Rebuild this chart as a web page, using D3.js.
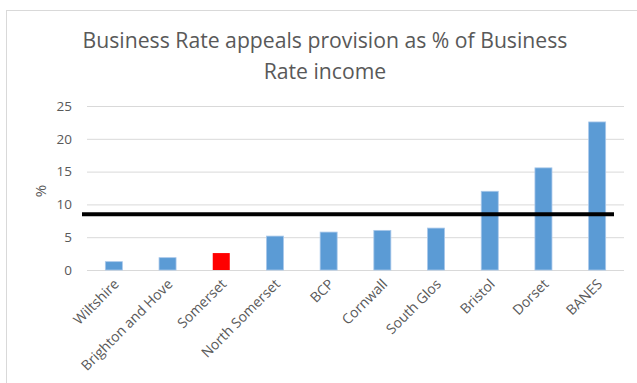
<!DOCTYPE html>
<html>
<head>
<meta charset="utf-8">
<script src="https://cdn.jsdelivr.net/npm/d3@7"></script>
<style>
  html, body { margin: 0; padding: 0; background: #fff; }
  svg { display: block; }
</style>
</head>
<body>
<svg id="chart" width="637" height="383"></svg>
<script>
// Business rate appeals provision by authority (% of business rate income)
const categories = ["Wiltshire", "Brighton and Hove", "Somerset", "North Somerset", "BCP",
                    "Cornwall", "South Glos", "Bristol", "Dorset", "BANES"];
const values = [1.27, 1.88, 2.58, 5.17, 5.78, 6.04, 6.39, 12.0, 15.57, 22.57];
const highlighted = ["Somerset"];
const averageLine = 8.5;
const yTicks = [0, 5, 10, 15, 20, 25];
const titleLines = ["Business Rate appeals provision as % of Business", "Rate income"];
const yAxisTitle = "%";

const svg = d3.select("#chart");
const W = 637, H = 383;
const margin = { left: 87, right: 13, top: 106, bottom: 113 };
const textColor = "#595959";
const font = "'Open Sans', Lato, sans-serif";

// chart frame
svg.append("rect")
  .attr("x", 6.5).attr("y", 10.5)
  .attr("width", W + 10).attr("height", H + 10)
  .attr("fill", "#fff").attr("stroke", "#d9d9d9").attr("stroke-width", 1);

const x = d3.scaleBand()
  .domain(categories)
  .range([margin.left, W - margin.right])
  .paddingInner(0.683)
  .paddingOuter(0.3415);

const y = d3.scaleLinear()
  .domain([0, 25])
  .range([H - margin.bottom, margin.top]);

// gridlines
const grid = d3.axisLeft(y).tickValues(yTicks)
  .tickSize(-(W - margin.right - margin.left)).tickFormat("");
svg.append("g")
  .attr("transform", `translate(${margin.left},0)`)
  .call(grid)
  .call(g => g.select(".domain").remove())
  .call(g => g.selectAll("line").attr("stroke", "#d9d9d9").attr("stroke-width", 1));

// y tick labels
const yAxis = d3.axisLeft(y).tickValues(yTicks).tickSize(0).tickPadding(15);
svg.append("g")
  .attr("transform", `translate(${margin.left},0)`)
  .call(yAxis)
  .call(g => g.select(".domain").remove())
  .call(g => g.selectAll("text")
    .attr("fill", textColor).attr("font-size", 13.5).attr("font-family", font));

// bars
svg.append("g").selectAll("rect")
  .data(categories.map((c, i) => ({ c, v: values[i] })))
  .join("rect")
  .attr("x", d => x(d.c))
  .attr("y", d => y(d.v))
  .attr("width", x.bandwidth())
  .attr("height", d => y(0) - y(d.v))
  .attr("fill", d => highlighted.includes(d.c) ? "#ff0000" : "#5b9bd5")
  .attr("stroke", d => highlighted.includes(d.c) ? "none" : "#a9c8ea")
  .attr("stroke-width", 0.8);

// x axis labels (rotated)
const xAxis = d3.axisBottom(x).tickSize(0).tickPadding(0);
svg.append("g")
  .attr("transform", `translate(0,${y(0)})`)
  .call(xAxis)
  .call(g => g.select(".domain").remove())
  .call(g => g.selectAll("text")
    .attr("fill", textColor).attr("font-size", 14).attr("font-family", font)
    .attr("text-anchor", "end")
    .attr("dy", null)
    .attr("transform", "translate(6,15) rotate(-45)"));

// reference line
svg.append("line")
  .attr("x1", 82).attr("x2", 614)
  .attr("y1", y(averageLine)).attr("y2", y(averageLine))
  .attr("stroke", "#000").attr("stroke-width", 3.8);

// y axis title
svg.append("text")
  .attr("transform", `translate(46,${(y(15) + y(10)) / 2 + 3}) rotate(-90)`)
  .attr("text-anchor", "middle")
  .attr("fill", textColor).attr("font-size", 15).attr("font-family", font)
  .text(yAxisTitle);

// title
svg.append("g").selectAll("text")
  .data(titleLines)
  .join("text")
  .attr("x", 325)
  .attr("y", (d, i) => 48 + i * 31)
  .attr("text-anchor", "middle")
  .attr("fill", textColor)
  .attr("font-size", 21.2)
  .attr("font-family", font)
  .text(d => d);
</script>
</body>
</html>
